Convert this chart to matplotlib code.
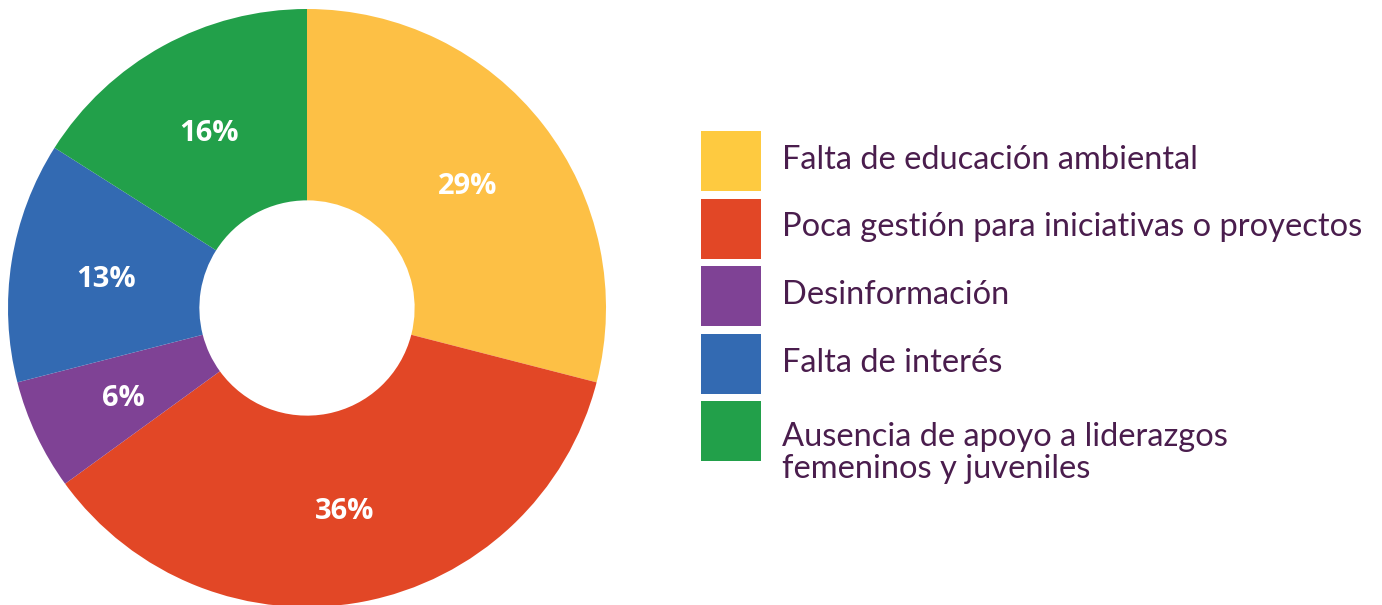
import matplotlib
matplotlib.use("Agg")
import matplotlib.pyplot as plt
from matplotlib.patches import Rectangle

categories = [
    "Falta de educación ambiental",
    "Poca gestión para iniciativas o proyectos",
    "Desinformación",
    "Falta de interés",
    "Ausencia de apoyo a liderazgos\nfemeninos y juveniles",
]
values = [29, 36, 6, 13, 16]
pie_colors = ["#FDC045", "#E24726", "#7F4295", "#336AB2", "#22A04A"]
legend_colors = ["#FECA40", "#E24726", "#7F4295", "#336AB2", "#22A04A"]
text_color = "#4A1D4D"

W, H = 1382, 605
fig = plt.figure(figsize=(W / 100, H / 100), dpi=100)
fig.patch.set_facecolor("white")

# pie axes: center (307, 308) px, radius 299 px
cx, cy, r = 307, 308, 299
ax = fig.add_axes([(cx - r) / W, (H - cy - r) / H, 2 * r / W, 2 * r / H])
ax.axis("off")

wedges, texts, autotexts = ax.pie(
    values, colors=pie_colors, startangle=90, counterclock=False,
    radius=1.0, wedgeprops=dict(width=1 - 0.36, linewidth=0),
    autopct=lambda p: f"{p:.0f}%", pctdistance=0.68,
    textprops=dict(color="white", fontsize=21, fontweight="bold", family="Open Sans"),
)
for t in autotexts:
    t.set_va("center_baseline")
ax.set_xlim(-1, 1)
ax.set_ylim(-1, 1)
ax.set_aspect("equal")

# legend
lax = fig.add_axes([0, 0, 1, 1])
lax.set_xlim(0, W)
lax.set_ylim(H, 0)
lax.axis("off")
box_x, box_w, box_h = 701, 60, 60
box_top0, step = 131, 67.5
for i, (lab, col) in enumerate(zip(categories, legend_colors)):
    top = box_top0 + i * step
    lax.add_patch(Rectangle((box_x, top), box_w, box_h, facecolor=col, edgecolor="none"))
    if "\n" in lab:
        lax.text(782, top + 21, lab, ha="left", va="top", fontsize=23.5,
                 color=text_color, family="Lato", linespacing=1.1)
    else:
        lax.text(782, top + box_h / 2 - 1, lab, ha="left", va="center", fontsize=23.5,
                 color=text_color, family="Lato")

fig.savefig("out.png", dpi=100, facecolor="white")
